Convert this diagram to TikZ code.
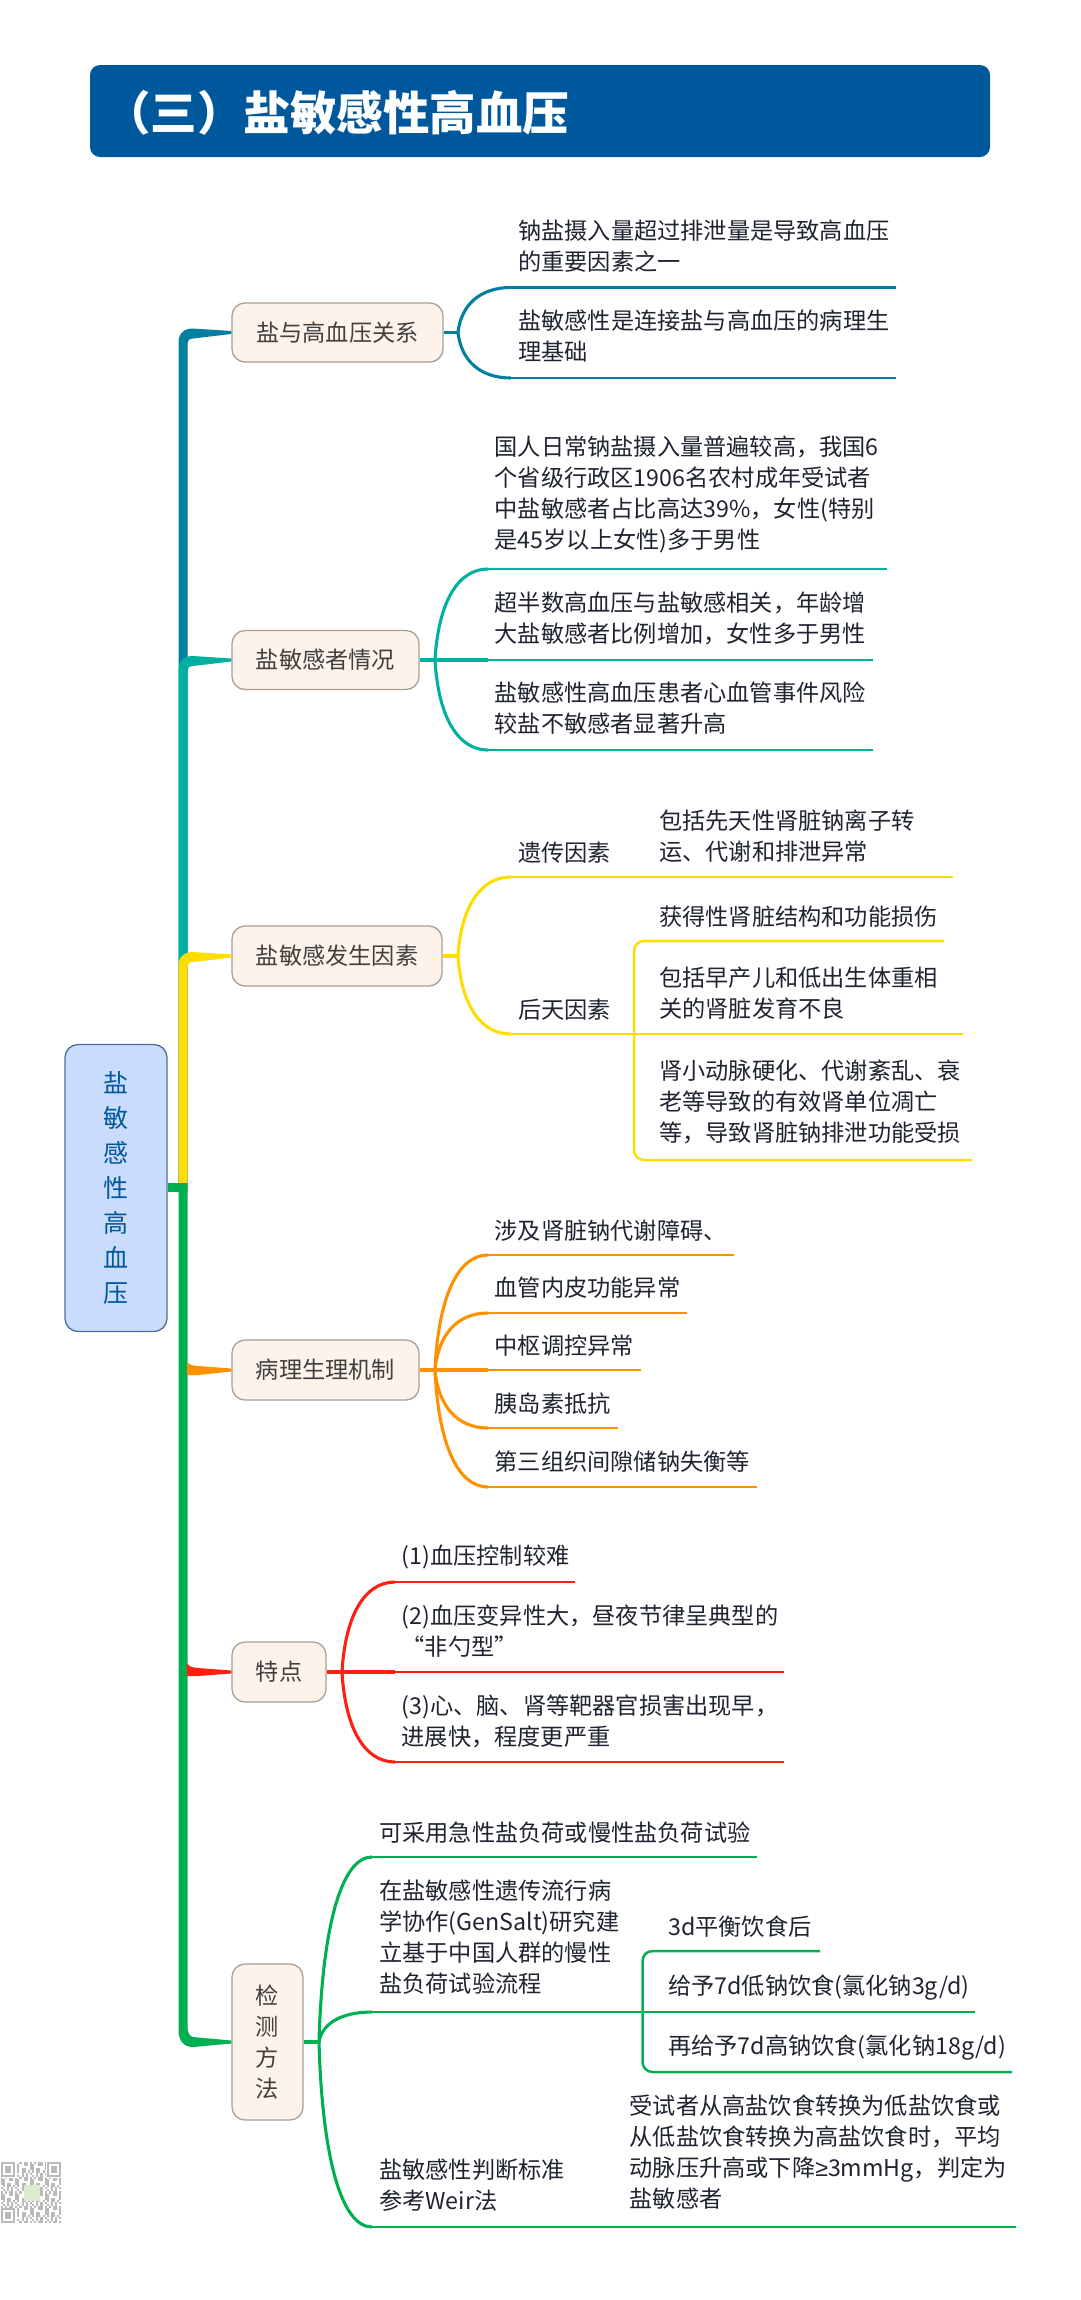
\documentclass[tikz,border=0pt]{standalone}
\usepackage{fontspec}
\setmainfont{Noto Sans CJK SC}
\newfontfamily\symfont{Liberation Sans}
\usetikzlibrary{calc}
\definecolor{cblue}{HTML}{007F9E}
\definecolor{cteal}{HTML}{00B0A0}
\definecolor{cyellow}{HTML}{FFDD00}
\definecolor{corange}{HTML}{FF9100}
\definecolor{cred}{HTML}{FF1F0F}
\definecolor{cgreen}{HTML}{00B050}
\definecolor{ctitle}{HTML}{00589C}
\definecolor{cnodefill}{HTML}{FDF3EA}
\definecolor{cnodeline}{HTML}{A89F95}
\definecolor{crootfill}{HTML}{C9DCFB}
\definecolor{crootline}{HTML}{4E6C9E}
\definecolor{ctxt}{HTML}{1F2430}
\definecolor{cnodetxt}{HTML}{404040}
\definecolor{cqr}{HTML}{BABABA}
\definecolor{clogo}{HTML}{DDEBCB}
\tikzset{
  x=1pt,y=-1pt,
  txt/.style={anchor=west,align=left,inner sep=0pt,text=ctxt,font=\fontsize{23.2}{31}\selectfont},
  topic/.style={draw=cnodeline,line width=1.3pt,fill=cnodefill,rounded corners=13pt,text=cnodetxt,inner sep=0pt,align=center,font=\fontsize{23.2}{31}\selectfont},
  branch/.style={line width=2.5pt},
  curvebranch/.style={line width=3.1pt},
  stem/.style={line width=3.6pt},
}
% name colour junction x-start y x-end
\newcommand\leaf[6]{%
  \coordinate (#1s) at (#4,#5);
  \coordinate (#1e) at (#6,#5);
  \draw[curvebranch,#2] let \p1=(#3),\p2=(#1s) in (\p1) .. controls ({\x1+0.06*(\x2-\x1)},{\y1+0.62*(\y2-\y1)}) and ({\x1+0.42*(\x2-\x1)},\y2) .. (\p2);
  \draw[branch,#2] (#1s) -- (#1e);
}
% colour, node, node y : trunk going up from the root bar
\newcommand\trunkup[3]{%
  \fill[#1] (178.5,1192) -- (178.5,{#3+10}) .. controls (178.5,{#3+1}) and (184,{#3-4}) .. (193,{#3-4}) -- ($(#2.west)+(0,-1.5)$) -- ($(#2.west)+(0,1.5)$) -- (193,{#3+6}) .. controls (189,{#3+6}) and (187.5,{#3+8}) .. (187.5,{#3+13}) -- (187.5,1192) -- cycle;
}
% colour, node, node y, rise, drop : taper from the trunk
\newcommand\taper[5]{%
  \fill[#1] (187,{#3-#4}) .. controls (189,{#3-5.5}) and (192,{#3-4.5}) .. (198,{#3-4}) -- ($(#2.west)+(0,-1.5)$) -- ($(#2.west)+(0,1.5)$) -- (198,{#3+#5}) -- (187,{#3+#5}) -- cycle;
}
\begin{document}
\begin{tikzpicture}
\path[use as bounding box,fill=white] (0,0) rectangle (1080,2300);
% title
\node[fill=ctitle,rounded corners=10pt,minimum width=900pt,minimum height=92pt,inner sep=0pt] (title) at (540,111) {};
\node[anchor=west,inner sep=0pt,text=white,font=\fontsize{46.5}{50}\selectfont\bfseries] (titletext) at (104,113) {（三）盐敏感性高血压};
% root and topics
\node[draw=crootline,line width=1.3pt,fill=crootfill,rounded corners=13pt,minimum width=102pt,minimum height=287pt,inner sep=0pt,align=center,text=ctitle,font=\fontsize{25}{35}\selectfont] (root) at (116,1188) {盐\\敏\\感\\性\\高\\血\\压};
\node[topic,minimum width=211pt,minimum height=59pt] (n1) at (337.5,332.5) {盐与高血压关系};
\node[topic,minimum width=187pt,minimum height=59pt] (n2) at (325.5,660) {盐敏感者情况};
\node[topic,minimum width=210pt,minimum height=60pt] (n3) at (337,956) {盐敏感发生因素};
\node[topic,minimum width=187pt,minimum height=60pt] (n4) at (325.5,1370) {病理生理机制};
\node[topic,minimum width=94pt,minimum height=60pt] (n5) at (279,1672) {特点};
\node[topic,minimum width=71pt,minimum height=156pt] (n6) at (267.5,2042) {检\\测\\方\\法};
% trunk
\trunkup{cblue}{n1}{332.5}
\trunkup{cteal}{n2}{660}
\trunkup{cyellow}{n3}{956}
\fill[cgreen] (178.5,1183) -- (187.5,1183) -- (187.5,2025) .. controls (187.5,2032) and (189,2036) .. (193,2037) -- ($(n6.west)+(0,-1.5)$) -- ($(n6.west)+(0,1.5)$) -- (193,2047) .. controls (184,2047) and (178.5,2041) .. (178.5,2030) -- cycle;
\fill[cgreen] (root.east |- 0,1183) rectangle (179,1192);
\taper{corange}{n4}{1370}{8}{5}
\taper{cred}{n5}{1672}{9}{4}
% topic 1
\coordinate (j1) at (458,332.5);
\draw[stem,cblue] (n1.east) -- (j1);
\leaf{a1}{cblue}{j1}{511}{287.5}{896}
\leaf{a2}{cblue}{j1}{511}{378}{896}
\node[txt] (t11) at (518,246.5) {钠盐摄入量超过排泄量是导致高血压\\的重要因素之一};
\node[txt] (t12) at (518,336.5) {盐敏感性是连接盐与高血压的病理生\\理基础};
% topic 2
\coordinate (j2) at (435,660);
\coordinate (b2s) at (488,660);
\coordinate (b2e) at (873,660);
\draw[stem,cteal] (n2.east) -- (b2s);
\draw[branch,cteal] (b2s) -- (b2e);
\leaf{b1}{cteal}{j2}{488}{569}{887}
\leaf{b3}{cteal}{j2}{488}{750}{873}
\node[txt] (t21) at (494.5,494.5) {国人日常钠盐摄入量普遍较高，我国6\\个省级行政区1906名农村成年受试者\\中盐敏感者占比高达39\%，女性(特别\\是45岁以上女性)多于男性};
\node[txt] (t22) at (494.5,618.5) {超半数高血压与盐敏感相关，年龄增\\大盐敏感者比例增加，女性多于男性};
\node[txt] (t23) at (494.5,708.5) {盐敏感性高血压患者心血管事件风险\\较盐不敏感者显著升高};
% topic 3
\coordinate (j3) at (458,956);
\draw[stem,cyellow] (n3.east) -- (j3);
\leaf{c1}{cyellow}{j3}{511}{877}{953}
\leaf{c2}{cyellow}{j3}{511}{1034}{963}
\node[txt] (t31) at (518,853) {遗传因素};
\node[txt] (t32) at (518,1010) {后天因素};
\node[txt] (t33) at (659,836.5) {包括先天性肾脏钠离子转\\运、代谢和排泄异常};
\node[txt] (t34) at (659,917) {获得性肾脏结构和功能损伤};
\node[txt] (t35) at (659,993.5) {包括早产儿和低出生体重相\\关的肾脏发育不良};
\node[txt] (t36) at (659,1101.5) {肾小动脉硬化、代谢紊乱、衰\\老等导致的有效肾单位凋亡\\等，导致肾脏钠排泄功能受损};
\coordinate (c3a) at (944,941);
\coordinate (c3b) at (634,941);
\coordinate (c3c) at (634,1160);
\coordinate (c3d) at (972,1160);
\draw[branch,cyellow,rounded corners=10pt] (c3a) -- (c3b) -- (c3c) -- (c3d);
% topic 4
\coordinate (j4) at (435,1370);
\coordinate (d3s) at (488,1370);
\coordinate (d3e) at (641,1370);
\draw[stem,corange] (n4.east) -- (d3s);
\draw[branch,corange] (d3s) -- (d3e);
\leaf{d1}{corange}{j4}{488}{1255}{734}
\leaf{d2}{corange}{j4}{488}{1313}{687}
\leaf{d4}{corange}{j4}{488}{1428}{618}
\leaf{d5}{corange}{j4}{488}{1487}{757}
\node[txt] (t41) at (494.5,1231) {涉及肾脏钠代谢障碍、};
\node[txt] (t42) at (494.5,1288) {血管内皮功能异常};
\node[txt] (t43) at (494.5,1346) {中枢调控异常};
\node[txt] (t44) at (494.5,1404) {胰岛素抵抗};
\node[txt] (t45) at (494.5,1461.5) {第三组织间隙储钠失衡等};
% topic 5
\coordinate (j5) at (342,1672);
\coordinate (e2s) at (395,1672);
\coordinate (e2e) at (784,1672);
\draw[stem,cred] (n5.east) -- (e2s);
\draw[branch,cred] (e2s) -- (e2e);
\leaf{e1}{cred}{j5}{395}{1582}{575}
\leaf{e3}{cred}{j5}{395}{1762}{784}
\node[txt] (t51) at (401.5,1557) {(1)血压控制较难};
\node[txt] (t52) at (401.5,1631) {(2)血压变异性大，昼夜节律呈典型的\\“非勺型”};
\node[txt] (t53) at (401.5,1721) {(3)心、脑、肾等靶器官损害出现早，\\进展快，程度更严重};
% topic 6
\coordinate (j6) at (319,2042);
\draw[stem,cgreen] (n6.east) -- (j6);
\leaf{f1}{cgreen}{j6}{372}{1857}{757}
\leaf{f2}{cgreen}{j6}{372}{2012}{974.5}
\leaf{f3}{cgreen}{j6}{372}{2227}{1016}
\node[txt] (t61) at (379,1833) {可采用急性盐负荷或慢性盐负荷试验};
\node[txt] (t62) at (379,1937.5) {在盐敏感性遗传流行病\\学协作(GenSalt)研究建\\立基于中国人群的慢性\\盐负荷试验流程};
\node[txt] (t63) at (379,2185.5) {盐敏感性判断标准\\参考Weir法};
\node[txt] (t64) at (668,1927) {3d平衡饮食后};
\node[txt] (t65) at (668,1988) {给予7d低钠饮食(氯化钠3g/d)};
\node[txt] (t66) at (668,2048) {再给予7d高钠饮食(氯化钠18g/d)};
\node[txt] (t67) at (629.5,2152.5) {受试者从高盐饮食转换为低盐饮食或\\从低盐饮食转换为高盐饮食时，平均\\动脉压升高或下降{\symfont ≥}3mmHg，判定为\\盐敏感者};
\coordinate (f4a) at (820,1951);
\coordinate (f4b) at (642.5,1951);
\coordinate (f4c) at (642.5,2072);
\coordinate (f4d) at (1012,2072);
\draw[branch,cgreen,rounded corners=10pt] (f4a) -- (f4b) -- (f4c) -- (f4d);
% QR code
\begin{scope}[shift={(0.5,2162)}]
  \foreach \i in {0,...,28}{\foreach \j in {0,...,28}{
    \pgfmathtruncatemacro\h{mod(\i*\i*2+\j*\j*3+\i*\j+\i*3+\j*5,7)}
    \ifnum\h<3\relax
      \fill[cqr] ({\i*2.1},{\j*2.1}) rectangle ++(2.1,2.1);
    \fi
  }}
  \foreach \a/\b in {0/0,46.2/0,0/46.2}{
    \fill[white] (\a-0.5,\b-0.5) rectangle ++(16.8,16.8);
    \fill[cqr] (\a,\b) rectangle ++(14.7,14.7);
    \fill[white] (\a+2.1,\b+2.1) rectangle ++(10.5,10.5);
    \fill[cqr] (\a+4.2,\b+4.2) rectangle ++(6.3,6.3);
  }
  \fill[clogo] (23.5,22.5) rectangle ++(16,16);
\end{scope}
\end{tikzpicture}
\end{document}
